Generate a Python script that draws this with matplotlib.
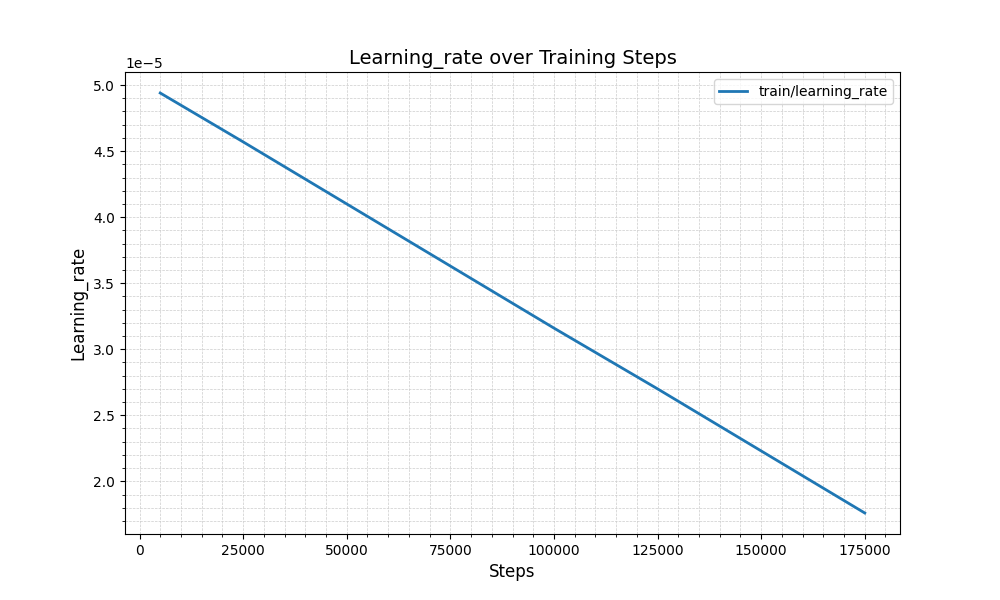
import matplotlib
matplotlib.use('Agg')
import matplotlib.pyplot as plt

# values
steps = [5000, 25000, 50000, 75000, 100000, 125000, 150000, 175000]
learning_rate = [4.94e-5, 4.57e-5, 4.10e-5, 3.63e-5, 3.16e-5, 2.70e-5, 2.23e-5, 1.76e-5]

fig, ax = plt.subplots(figsize=(10, 6), dpi=100)
ax.plot(steps, learning_rate, color='#1f77b4', linewidth=2, label='train/learning_rate')

ax.set_title('Learning_rate over Training Steps', fontsize=14)
ax.set_xlabel('Steps', fontsize=12)
ax.set_ylabel('Learning_rate', fontsize=12)

ax.minorticks_on()
ax.grid(True, which='both', linestyle='--', linewidth=0.5, color='#cccccc')
ax.legend(loc='upper right')

fig.savefig('out.png', dpi=100)
